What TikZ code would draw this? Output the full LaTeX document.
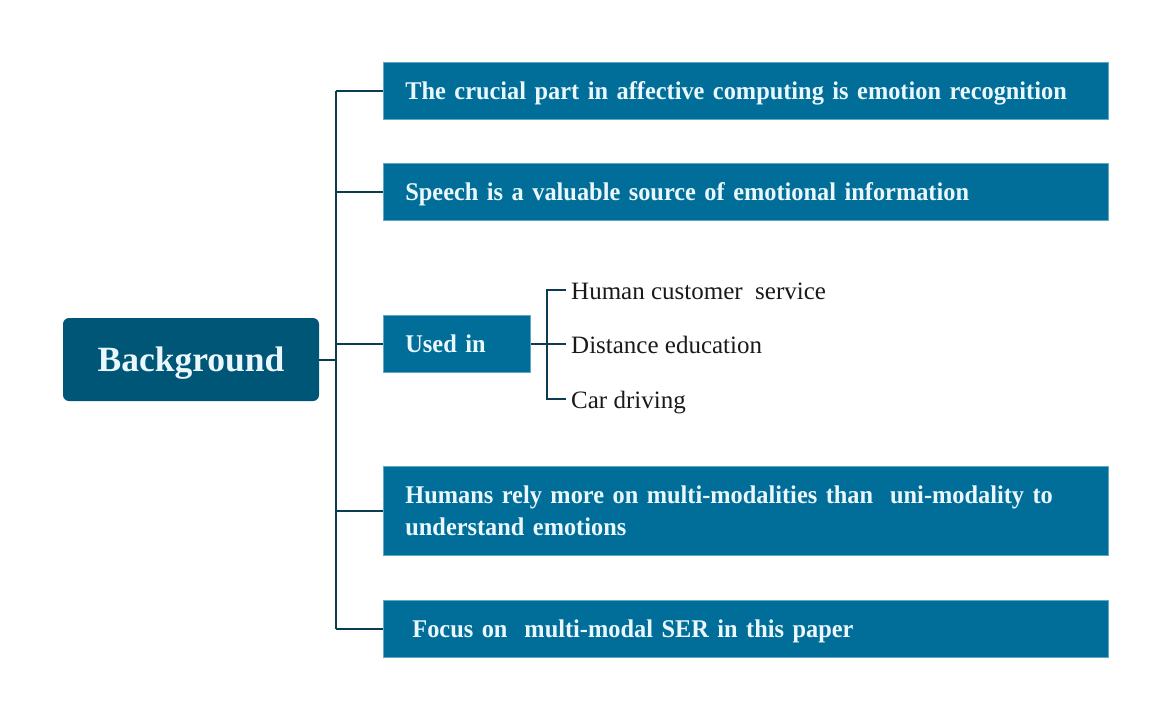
\documentclass[tikz,border=0pt]{standalone}
\usepackage{fontspec}
\setmainfont{Liberation Serif}
\newfontfamily\boxfont{Liberation Serif}[FakeStretch=0.955]
\definecolor{rootblue}{HTML}{005677}
\definecolor{boxblue}{HTML}{006E99}
\definecolor{boxedge}{HTML}{5FA8C6}
\definecolor{linecol}{HTML}{0B3C52}
\definecolor{txtlight}{HTML}{EAF7FC}
\definecolor{txtdark}{HTML}{1A1A1A}
\tikzset{
  rootbox/.style={fill=rootblue, draw=none, rounded corners=6pt, minimum width=256pt, minimum height=83pt, inner sep=0pt,
    text height=24pt, text depth=0pt, text=txtlight, font=\fontsize{35.5}{40}\selectfont\bfseries},
  itembox/.style={fill=boxblue, draw=boxedge, line width=0.8pt, anchor=west, minimum width=725pt, minimum height=57pt,
    inner xsep=22pt, inner ysep=0pt, text width=681pt, align=left, text=txtlight, font=\boxfont\fontsize{25.5}{32}\selectfont\bfseries},
  oneline/.style={text height=17pt, text depth=0pt},
  smallbox/.style={fill=boxblue, draw=boxedge, line width=0.8pt, anchor=west, minimum width=147pt, minimum height=57pt,
    inner xsep=22pt, inner ysep=0pt, text width=103pt, align=left, text height=18pt, text depth=0pt,
    text=txtlight, font=\boxfont\fontsize{25.5}{32}\selectfont\bfseries},
  leaf/.style={anchor=west, inner sep=0pt, text height=18pt, text depth=0pt, text=txtdark, font=\fontsize{25}{30}\selectfont},
  conn/.style={draw=linecol, line width=2pt}
}
\begin{document}
\begin{tikzpicture}[x=1pt,y=-1pt]
\useasboundingbox (0,0) rectangle (1171,720);
\node[rootbox] (root) at (191,359.5) {Background};
\node[itembox, oneline] (b1) at (383,91) {The crucial part in affective computing is emotion recognition};
\node[itembox, oneline] (b2) at (383,192) {Speech is a valuable source of emotional information};
\node[smallbox] (used) at (383,343.5) {Used in};
\node[itembox, minimum height=89pt] (b4) at (383,510.5) {Humans rely more on multi-modalities than\ \ uni-modality to understand emotions};
\node[itembox, oneline] (b5) at (383,628.5) {\hspace*{7pt}Focus on\ \ multi-modal SER in this paper};
\node[leaf] (l1) at (571,290) {Human customer\ \ service};
\node[leaf] (l2) at (571,344) {Distance education};
\node[leaf] (l3) at (571,399) {Car driving};
\coordinate (ttop) at (336,91);
\coordinate (tbot) at (336,628.5);
\draw[conn] (ttop) -- (tbot);
\draw[conn] (root.east) -- (root.east -| ttop);
\draw[conn] (b1.west) -- (b1.west -| ttop);
\draw[conn] (b2.west) -- (b2.west -| ttop);
\draw[conn] (used.west) -- (used.west -| ttop);
\draw[conn] (b4.west) -- (b4.west -| ttop);
\draw[conn] (b5.west) -- (b5.west -| ttop);
\coordinate (stop) at (547,290);
\draw[conn] (used.east) -- (used.east -| stop);
\draw[conn] ([xshift=-5pt]l1.west) -- (l1.west -| stop) -- (l3.west -| stop) -- ([xshift=-5pt]l3.west);
\draw[conn] (l2.west -| stop) -- ([xshift=-5pt]l2.west);
\end{tikzpicture}
\end{document}
